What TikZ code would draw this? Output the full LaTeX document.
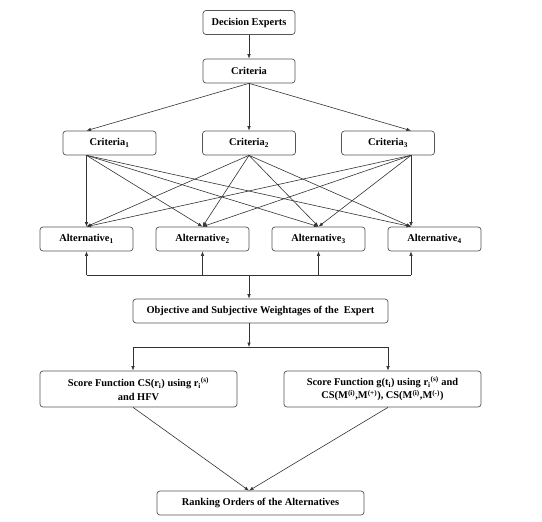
\documentclass[tikz,border=0pt]{standalone}
\usepackage{fontspec}
\setmainfont{Liberation Serif}
\usetikzlibrary{arrows.meta,calc}
\definecolor{boxc}{HTML}{555555}
\definecolor{linec}{HTML}{333333}
\begin{document}
\begin{tikzpicture}[x=1pt,y=-1pt,
  box/.style={draw=boxc, line width=0.7pt, rounded corners=3pt, align=center,
    font=\fontsize{10.4}{13.5}\selectfont\bfseries, inner sep=0pt, text=black},
  small/.style={box, minimum width=93pt, minimum height=24pt},
  conn/.style={draw=linec, line width=0.6pt},
  arr/.style={conn, -{Latex[length=4.5pt,width=3.5pt]}}]
\useasboundingbox[fill=white] (0,0) rectangle (542,522);

\node[box, minimum width=92pt, minimum height=24pt] (de) at (249,22.5) {Decision Experts};
\node[box, minimum width=92pt, minimum height=24pt] (cr) at (249,71) {Criteria};

\node[small] (c1) at (109.5,143) {Criteria\textsubscript{1}};
\node[small] (c2) at (249,143) {Criteria\textsubscript{2}};
\node[small] (c3) at (388,143) {Criteria\textsubscript{3}};

\node[small] (a1) at (86.5,239) {Alternative\textsubscript{1}};
\node[small] (a2) at (202.5,239) {Alternative\textsubscript{2}};
\node[small] (a3) at (318.5,239) {Alternative\textsubscript{3}};
\node[small] (a4) at (434.5,239) {Alternative\textsubscript{4}};

\node[box, minimum width=255pt, minimum height=24pt] (obj) at (260.5,311)
  {Objective and Subjective Weightages of the~ Expert};

\node[box, minimum width=197pt, minimum height=36pt] (s1) at (138.5,389)
  {Score Function CS(r\textsubscript{i}) using r\textsubscript{i}\textsuperscript{(s)}\\and HFV};
\node[box, minimum width=197pt, minimum height=36pt] (s2) at (382.5,389)
  {Score Function g(t\textsubscript{i}) using r\textsubscript{i}\textsuperscript{(s)} and\\CS(M\textsuperscript{(i)},M\textsuperscript{(+)}), CS(M\textsuperscript{(i)},M\textsuperscript{(-)})};

\node[box, minimum width=207pt, minimum height=24pt] (rk) at (260.5,503)
  {Ranking Orders of the Alternatives};

% ports
\coordinate (c1p) at (c1.south -| a1.center);
\coordinate (c2p) at (c2.south);
\coordinate (c3p) at ([xshift=23pt]c3.south);
\coordinate (c1t) at (c1.north -| a1.center);
\coordinate (c3t) at (c3.north -| c3p);
\coordinate (a1t) at (a1.north);
\coordinate (a2t) at (a2.north);
\coordinate (a3t) at (a3.north);
\coordinate (a4t) at (a4.north -| c3p);
\coordinate (a1b) at (a1.south);
\coordinate (a2b) at (a2.south);
\coordinate (a3b) at (a3.south);
\coordinate (a4b) at (a4.south -| c3p);
\coordinate (bus) at (249,275);
\coordinate (objt) at (obj.north -| bus);
\coordinate (objb) at (obj.south -| bus);
\coordinate (bus2) at (249,347);
\coordinate (s1t) at (133,347);
\coordinate (s2t) at (388,347);
\coordinate (s1b) at (s1.south -| s1t);
\coordinate (s2b) at (s2.south -| s2t);
\coordinate (rkt) at (rk.north -| bus);

\draw[arr] (de) -- (cr);
\draw[arr] (cr.south) -- (c1t);
\draw[arr] (cr.south) -- (c2.north);
\draw[arr] (cr.south) -- (c3t);

\foreach \c in {c1p,c2p,c3p}
  \foreach \a in {a1t,a2t,a3t,a4t}
    \draw[arr] (\c) -- (\a);

\draw[conn] (a1b |- bus) -- (a4b |- bus);
\foreach \a in {a1b,a2b,a3b,a4b}
  \draw[arr] (\a |- bus) -- (\a);
\draw[arr] (bus) -- (objt);

\draw[arr] (objb) -- (bus2);
\draw[conn] (s1t) -- (s2t);
\draw[arr] (s1t) -- (s1.north -| s1t);
\draw[arr] (s2t) -- (s2.north -| s2t);

\draw[arr] (s1b) -- (rkt);
\draw[arr] (s2b) -- (rkt);
\end{tikzpicture}
\end{document}
